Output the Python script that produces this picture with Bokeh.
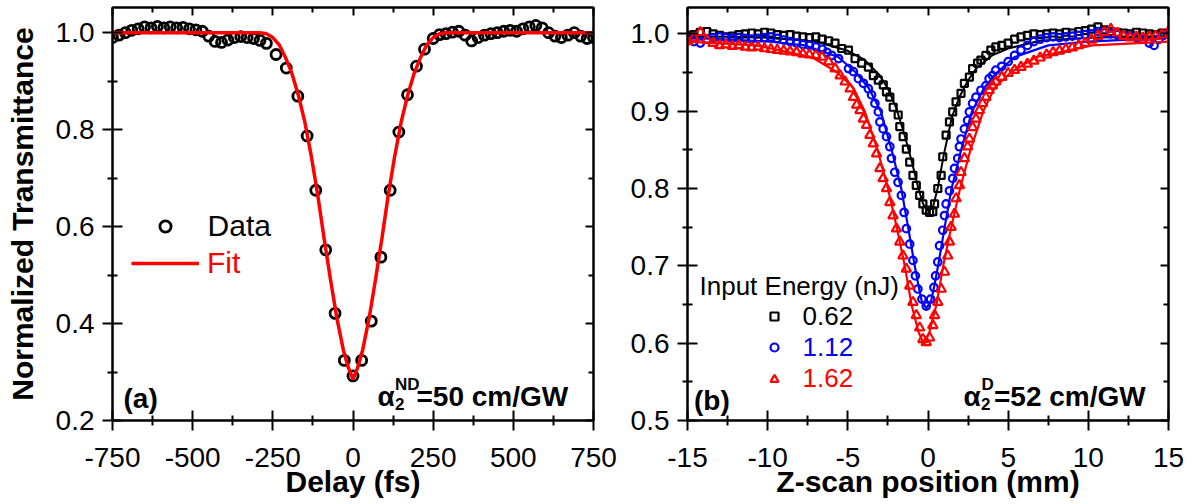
from bokeh.plotting import figure
from bokeh.models import (LinearAxis, FixedTicker, CustomJSTickFormatter, Label,
                          Legend, LegendItem, Range1d)
from bokeh.layouts import row
from bokeh.embed import file_html
from bokeh.resources import INLINE

FONT = "Liberation Sans"

# ---------------- Panel (a) data ----------------
delay_fs = [-750, -730, -710, -690, -670, -650, -630, -610, -590, -570, -550, -530, -510,
            -490, -470, -450, -430, -410, -390, -370, -350, -330, -310, -290, -270,
            -240, -208, -172, -143, -116, -85, -56, -27, 0, 27, 57, 87, 116, 143, 170, 198, 223,
            250, 270, 290, 310, 330, 350, 370, 390, 410, 430, 450, 470, 490, 510, 530, 550,
            570, 590, 610, 630, 650, 670, 690, 710, 730, 750]
trans_a = [0.990, 0.995, 1.000, 1.005, 1.008, 1.012, 1.010, 1.013, 1.010, 1.012, 1.010, 1.011, 1.008,
           1.006, 1.003, 0.993, 0.982, 0.980, 0.985, 0.990, 0.992, 0.990, 0.988, 0.984, 0.978,
           0.955, 0.927, 0.869, 0.787, 0.675, 0.552, 0.421, 0.324, 0.292, 0.324, 0.405, 0.537, 0.675,
           0.795, 0.872, 0.931, 0.966,
           0.988, 0.996, 0.998, 1.001, 1.003, 0.995, 0.983, 0.990, 0.995, 0.998, 1.000, 1.003, 1.005,
           1.003, 1.008, 1.012, 1.015, 1.010, 1.000, 0.993, 0.990, 0.995, 1.000, 0.993, 0.988, 0.990]
fit_a_x = [-750, -290, -270, -250, -230, -210, -190, -170, -150, -130, -110, -90, -70, -50, -30, -15, 0,
           15, 30, 50, 70, 90, 110, 130, 150, 170, 190, 210, 230, 250, 270, 290, 750]
fit_a_y = [1.0, 1.0, 0.998, 0.990, 0.975, 0.948, 0.915, 0.870, 0.815, 0.745, 0.665, 0.575, 0.490, 0.410,
           0.345, 0.310, 0.285,
           0.310, 0.345, 0.410, 0.490, 0.575, 0.665, 0.745, 0.815, 0.870, 0.915, 0.948, 0.975, 0.990,
           0.998, 1.0, 1.0]

# ---------------- Panel (b) data ----------------
z_062 = [-15.0, -14.6, -14.2, -13.8, -13.4, -13.0, -12.6, -12.2, -11.8, -11.4, -11.0, -10.6, -10.2, -9.8,
         -9.4, -9.0, -8.6, -8.2, -7.8, -7.4, -7.0, -6.6, -6.2, -5.8,
         -5.38, -4.96, -4.55, -4.14, -3.72, -3.41, -3.10, -2.79, -2.59, -2.38, -2.17, -1.86, -1.76, -1.55,
         -1.35, -1.14, -0.94, -0.73, -0.52, -0.32, -0.11, 0.10, 0.30, 0.41, 0.61, 0.82, 0.92, 1.13, 1.34,
         1.54, 1.75, 2.06, 2.27, 2.58, 2.78, 3.09, 3.30, 3.61, 3.92, 4.23,
         4.6, 5.0, 5.4, 5.8, 6.2, 6.6, 7.0, 7.4, 7.8, 8.2, 8.6, 9.0, 9.4, 9.8, 10.2, 10.6, 11.0, 11.4,
         11.8, 12.2, 12.6, 13.0, 13.4, 13.8, 14.2, 14.6, 15.0]
t_062 = [0.998, 0.999, 1.002, 1.003, 1.000, 0.998, 0.996, 0.997, 0.999, 1.000, 1.001, 1.000, 1.002, 1.001,
         0.999, 0.998, 0.999, 0.997, 0.996, 0.995, 0.996, 0.993, 0.991, 0.988,
         0.981, 0.979, 0.968, 0.962, 0.957, 0.946, 0.940, 0.934, 0.925, 0.918, 0.905, 0.895, 0.880, 0.867,
         0.851, 0.834, 0.817, 0.804, 0.791, 0.780, 0.772, 0.769, 0.770, 0.780, 0.800, 0.817, 0.841, 0.869,
         0.886, 0.899, 0.912, 0.923, 0.936, 0.944, 0.955, 0.962, 0.966, 0.972, 0.979, 0.983,
         0.985, 0.988, 0.993, 0.996, 0.998, 1.000, 0.999, 1.000, 1.001, 1.000, 1.002, 1.001, 1.003, 1.004,
         1.006, 1.009, 1.005, 1.003, 1.002, 1.001, 1.000, 1.002, 1.001, 1.000, 0.999, 1.001, 1.000]

z_112 = [-15.0, -14.6, -14.2, -13.8, -13.4, -13.0, -12.6, -12.2, -11.8, -11.4, -11.0, -10.6, -10.2, -9.8,
         -9.4, -9.0, -8.6, -8.2, -7.8, -7.4, -7.0, -6.6, -6.3,
         -6.00, -5.58, -4.96, -4.65, -4.34, -4.03, -3.72, -3.52, -3.31, -3.10, -3.00, -2.80, -2.59, -2.38,
         -2.28, -2.07, -1.87, -1.66, -1.49, -1.35, -1.14, -0.94, -0.79, -0.63, -0.38, -0.11, 0.16, 0.37,
         0.47, 0.61, 0.72, 0.92, 1.03, 1.13, 1.34, 1.54, 1.65, 1.85, 1.96, 2.06, 2.27, 2.47, 2.58, 2.78,
         2.99, 3.30, 3.61, 3.81, 4.02, 4.23,
         4.6, 5.0, 5.4, 5.8, 6.2, 6.6, 7.0, 7.4, 7.8, 8.2, 8.6, 9.0, 9.4, 9.8, 10.2, 10.6, 11.0, 11.4,
         11.8, 12.2, 12.6, 13.0, 13.4, 13.8, 14.1, 14.4, 14.7, 15.0]
t_112 = [0.996, 0.990, 0.988, 0.993, 0.995, 0.996, 0.995, 0.994, 0.995, 0.994, 0.993, 0.994, 0.995, 0.996,
         0.994, 0.992, 0.990, 0.988, 0.986, 0.985, 0.983, 0.980, 0.976,
         0.972, 0.968, 0.955, 0.951, 0.942, 0.936, 0.929, 0.921, 0.910, 0.899, 0.886, 0.877, 0.867, 0.854,
         0.839, 0.821, 0.808, 0.791, 0.769, 0.748, 0.728, 0.707, 0.687, 0.670, 0.657, 0.648, 0.657, 0.672,
         0.687, 0.705, 0.726, 0.746, 0.765, 0.780, 0.797, 0.813, 0.826, 0.839, 0.854, 0.864, 0.877, 0.888,
         0.899, 0.910, 0.918, 0.927, 0.933, 0.942, 0.946, 0.953,
         0.958, 0.964, 0.972, 0.979, 0.985, 0.990, 0.993, 0.995, 0.996, 0.995, 0.996, 0.997, 0.998, 0.999,
         1.000, 1.003, 1.001, 1.000, 0.999, 0.998, 0.997, 0.995, 0.993, 0.988, 0.985, 0.993, 0.998, 1.000]

z_162 = [-15.0, -14.6, -14.2, -13.8, -13.4, -13.0, -12.6, -12.2, -11.8, -11.4, -11.0, -10.6, -10.2, -9.8,
         -9.4, -9.0, -8.6, -8.2, -7.8, -7.4, -7.0,
         -6.62, -6.20, -5.79, -5.48, -5.17, -4.86, -4.65, -4.45, -4.24, -4.03, -3.83, -3.62, -3.41, -3.21,
         -3.00, -2.80, -2.59, -2.38, -2.18, -1.97, -1.76, -1.56, -1.35, -1.14, -0.94, -0.73, -0.52, -0.32,
         -0.11, 0.10, 0.30, 0.41, 0.61, 0.82, 1.03, 1.23, 1.34, 1.44, 1.65, 1.75, 1.96, 2.06, 2.27, 2.47,
         2.58, 2.78, 2.99, 3.20, 3.40, 3.61, 3.81, 4.02, 4.23,
         4.6, 5.0, 5.4, 5.8, 6.2, 6.6, 7.0, 7.4, 7.8, 8.2, 8.6, 9.0, 9.4, 9.8, 10.2, 10.6, 11.0, 11.4,
         11.8, 12.2, 12.6, 13.0, 13.4, 13.8, 14.2, 14.6, 15.0]
t_162 = [0.990, 0.995, 1.002, 0.992, 0.988, 0.985, 0.986, 0.984, 0.985, 0.983, 0.982, 0.983, 0.981, 0.980,
         0.979, 0.978, 0.977, 0.976, 0.974, 0.973, 0.972,
         0.970, 0.964, 0.955, 0.946, 0.938, 0.929, 0.918, 0.908, 0.901, 0.890, 0.882, 0.869, 0.858, 0.845,
         0.826, 0.813, 0.800, 0.782, 0.765, 0.748, 0.731, 0.713, 0.696, 0.674, 0.653, 0.636, 0.620, 0.605,
         0.601, 0.607, 0.623, 0.636, 0.653, 0.670, 0.692, 0.713, 0.731, 0.750, 0.767, 0.787, 0.804, 0.821,
         0.839, 0.854, 0.864, 0.879, 0.890, 0.901, 0.910, 0.918, 0.927, 0.933, 0.938,
         0.944, 0.949, 0.953, 0.957, 0.961, 0.965, 0.969, 0.973, 0.976, 0.978, 0.980, 0.982, 0.985, 0.988,
         0.992, 0.997, 1.002, 1.006, 1.001, 0.997, 0.995, 0.996, 0.995, 0.996, 0.997, 0.999, 1.003]

fit_062_x = [-15, -10, -7, -5, -4, -3, -2.5, -2, -1.5, -1, -0.6, -0.3, 0, 0.3, 0.6, 1, 1.5, 2, 2.5, 3, 4, 5, 7, 10, 15]
fit_062_y = [0.997, 0.995, 0.990, 0.978, 0.967, 0.946, 0.929, 0.905, 0.872, 0.834, 0.800, 0.780, 0.771,
             0.775, 0.800, 0.845, 0.893, 0.920, 0.940, 0.955, 0.972, 0.981, 0.991, 0.995, 0.997]
fit_112_x = [-15, -10, -7.7, -5.6, -4.5, -3.7, -2.95, -2.27, -1.67, -1.24, -0.83, -0.6, -0.4, -0.1,
             0.2, 0.4, 0.63, 1.04, 1.47, 2.07, 2.75, 3.5, 4.3, 5.4, 7.5, 10, 15]
fit_112_y = [0.995, 0.990, 0.985, 0.970, 0.950, 0.930, 0.900, 0.850, 0.800, 0.750, 0.700, 0.675, 0.655,
             0.645, 0.655, 0.675, 0.700, 0.750, 0.800, 0.850, 0.900, 0.930, 0.950, 0.970, 0.985, 0.990, 0.995]
fit_162_x = [-15, -10.75, -7.25, -5.65, -4.65, -3.95, -3.15, -2.5, -1.95, -1.45, -1.03, -0.6, -0.25,
             0.1, 0.53, 0.95, 1.45, 2.0, 2.65, 3.45, 4.15, 5.15, 6.75, 10.25, 15]
fit_162_y = [0.990, 0.985, 0.970, 0.950, 0.930, 0.900, 0.850, 0.800, 0.750, 0.700, 0.650, 0.615, 0.598,
             0.615, 0.650, 0.700, 0.750, 0.800, 0.850, 0.900, 0.930, 0.950, 0.970, 0.985, 0.990]

# tick values
a_xticks = [-750, -500, -250, 0, 250, 500, 750]
a_xminor = [-625, -375, -125, 125, 375, 625]
a_yticks = [0.2, 0.4, 0.6, 0.8, 1.0]
a_yminor = [0.3, 0.5, 0.7, 0.9]
b_xticks = [-15, -10, -5, 0, 5, 10, 15]
b_xminor = [-12.5, -7.5, -2.5, 2.5, 7.5, 12.5]
b_yticks = [0.5, 0.6, 0.7, 0.8, 0.9, 1.0]
b_yminor = [0.55, 0.65, 0.75, 0.85, 0.95]


def style_axes(p, xt, xm, yt, ym, xfmt, yfmt, xlabel, ylabel):
    xticker = FixedTicker(ticks=xt, minor_ticks=xm)
    yticker = FixedTicker(ticks=yt, minor_ticks=ym)
    p.xaxis.ticker = xticker
    p.yaxis.ticker = yticker
    p.xaxis.formatter = CustomJSTickFormatter(code=xfmt)
    p.yaxis.formatter = CustomJSTickFormatter(code=yfmt)
    for ax in (p.xaxis[0], p.yaxis[0]):
        ax.axis_line_width = 2
        ax.axis_line_color = "black"
        ax.major_tick_line_width = 2
        ax.minor_tick_line_width = 2
        ax.major_tick_line_color = "black"
        ax.minor_tick_line_color = "black"
        ax.major_tick_in = 10
        ax.major_tick_out = 10
        ax.minor_tick_in = 5
        ax.minor_tick_out = 5
        ax.major_label_text_font = FONT
        ax.major_label_text_font_size = "28px"
        ax.major_label_text_color = "black"
        ax.axis_label_text_font = FONT
        ax.axis_label_text_font_size = "30px"
        ax.axis_label_text_font_style = "bold"
        ax.axis_label_text_color = "black"
    p.xaxis.major_label_standoff = 17
    p.xaxis.axis_label_standoff = -5
    p.yaxis.major_label_standoff = 8
    p.yaxis.axis_label_standoff = 14
    p.xaxis.axis_label = xlabel
    p.yaxis.axis_label = ylabel
    # top and right mirror axes with inward ticks
    for loc, tk in (("above", xticker), ("right", yticker)):
        ax = LinearAxis(ticker=tk, formatter=CustomJSTickFormatter(code="return ''"))
        ax.axis_line_width = 2
        ax.axis_line_color = "black"
        ax.major_tick_line_width = 2
        ax.minor_tick_line_width = 2
        ax.major_tick_in = 8
        ax.major_tick_out = 0
        ax.minor_tick_in = 5
        ax.minor_tick_out = 0
        ax.major_label_standoff = 0
        ax.major_label_text_font_size = "0px"
        p.add_layout(ax, loc)
    p.outline_line_color = "black"
    p.outline_line_width = 2
    p.grid.visible = False
    p.background_fill_color = "white"
    p.border_fill_color = "white"


def add_text(p, x, y, text, size, bold=False, color="black", baseline="alphabetic"):
    p.add_layout(Label(x=x, y=y, x_units="screen", y_units="screen", text=text,
                       text_font=FONT, text_font_size=size,
                       text_font_style="bold" if bold else "normal",
                       text_color=color, text_baseline=baseline, text_align="left"))


def add_legend(p, renderer, label, loc, gw, gh, standoff, size, color):
    leg = Legend(items=[LegendItem(label=label, renderers=[renderer])], location=loc,
                 glyph_width=gw, glyph_height=gh, label_height=gh, label_width=10,
                 label_standoff=standoff, label_text_font=FONT, label_text_font_size=size,
                 label_text_color=color, padding=0, margin=0, spacing=0,
                 border_line_alpha=0, background_fill_alpha=0)
    p.add_layout(leg, "center")


# ---------------- Figure (a) ----------------
pa = figure(width=620, height=504, output_backend="svg", toolbar_location=None,
            x_range=Range1d(-750, 750), y_range=Range1d(0.2, 1.052),
            min_border_left=112, min_border_right=27, min_border_top=7, min_border_bottom=84)
style_axes(pa, a_xticks, a_xminor, a_yticks, a_yminor,
           "return tick.toFixed(0)", "return tick.toFixed(1)",
           "Delay (fs)", "Normalized Transmittance")
data_r = pa.scatter(delay_fs, trans_a, marker="circle", size=10, fill_color=None,
                    line_color="black", line_width=2.8)
fit_r = pa.line(fit_a_x, fit_a_y, line_color="#ff0000", line_width=3.5)
add_legend(pa, data_r, "Data", (38.6, 177.2), 28, 28, 29, "30px", "black")
add_legend(pa, fit_r, "Fit", (19, 139.8), 68, 22, 8, "30px", "#ff0000")
add_text(pa, 11, 21.7, "(a)", "28px", bold=True)
add_text(pa, 265, 24.5, "α", "28px", bold=True)
add_text(pa, 282.5, 16.5, "2", "17px", bold=True)
add_text(pa, 282.5, 35.7, "ND", "17px", bold=True)
add_text(pa, 304, 24.5, "=50 cm/GW", "28px", bold=True)

# ---------------- Figure (b) ----------------
pb = figure(width=575, height=504, output_backend="svg", toolbar_location=None,
            x_range=Range1d(-15, 15), y_range=Range1d(0.5, 1.034),
            min_border_left=67, min_border_right=27, min_border_top=7, min_border_bottom=84)
style_axes(pb, b_xticks, b_xminor, b_yticks, b_yminor,
           "return tick.toFixed(0)", "return tick.toFixed(1)",
           "Z-scan position (mm)", None)
r062 = pb.scatter(z_062, t_062, marker="square", size=7, fill_color=None,
                  line_color="black", line_width=2.2)
pb.line(fit_062_x, fit_062_y, line_color="black", line_width=2)
r112 = pb.scatter(z_112, t_112, marker="circle", size=7.5, fill_color=None,
                  line_color="#0000ff", line_width=2.2)
pb.line(fit_112_x, fit_112_y, line_color="#0000ff", line_width=2.2)
r162 = pb.scatter(z_162, t_162, marker="triangle", size=9.5, fill_color=None,
                  line_color="#ff0000", line_width=2.2)
pb.line(fit_162_x, fit_162_y, line_color="#ff0000", line_width=2.2)
add_text(pb, 12, 135, "Input Energy (nJ)", "26px", baseline="middle")
add_legend(pb, r062, "0.62", (76.5, 88.5), 20, 20, 19, "26px", "black")
add_legend(pb, r112, "1.12", (76.5, 57.2), 20, 20, 19, "26px", "#0000ff")
add_legend(pb, r162, "1.62", (76.5, 25.9), 20, 20, 19, "26px", "#ff0000")
add_text(pb, 6.5, 19.7, "(b)", "28px", bold=True)
add_text(pb, 276, 24, "α", "28px", bold=True)
add_text(pb, 293.5, 16.5, "2", "17px", bold=True)
add_text(pb, 294, 35.7, "D", "17px", bold=True)
add_text(pb, 306.5, 24, "=52 cm/GW", "28px", bold=True)

layout = row(pa, pb)
open("out.html", "w").write(file_html(layout, INLINE))
